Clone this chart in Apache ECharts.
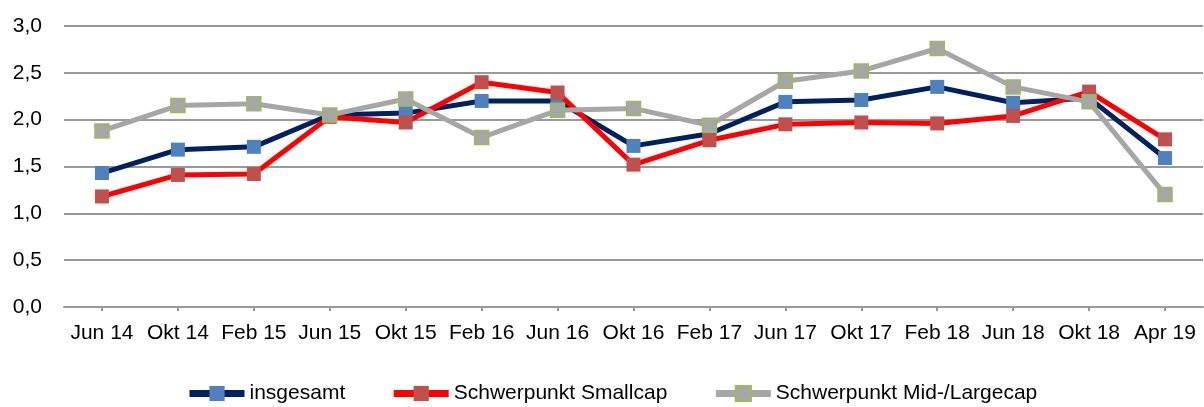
<!DOCTYPE html>
<html>
<head>
<meta charset="utf-8">
<script src="https://cdn.jsdelivr.net/npm/echarts@6/dist/echarts.min.js"></script>
<style>
html,body{margin:0;padding:0;background:#fff;}
#c{width:1204px;height:407px;}
</style>
</head>
<body>
<div id="c"></div>
<script>
var categories = ['Jun 14','Okt 14','Feb 15','Jun 15','Okt 15','Feb 16','Jun 16','Okt 16','Feb 17','Jun 17','Okt 17','Feb 18','Jun 18','Okt 18','Apr 19'];
var insgesamt = [1.43,1.68,1.71,2.05,2.07,2.20,2.20,1.72,1.85,2.19,2.21,2.35,2.18,2.23,1.59];
var smallcap = [1.18,1.41,1.42,2.03,1.97,2.40,2.29,1.52,1.78,1.95,1.97,1.96,2.04,2.30,1.79];
var midLarge = [1.88,2.15,2.17,2.05,2.22,1.81,2.10,2.12,1.94,2.41,2.52,2.76,2.35,2.19,1.20];
var seriesNames = ['insgesamt','Schwerpunkt Smallcap','Schwerpunkt Mid-/Largecap'];

var FONT = '"Liberation Sans", Arial, sans-serif';
var chart = echarts.init(document.getElementById('c'), null, {renderer:'canvas'});

function mk(name, data, lineColor, markColor, borderColor, z){
  return {
    name: name, type: 'line', data: data, z: z,
    symbol: 'rect', symbolSize: 14,
    lineStyle: {color: lineColor, width: 5},
    itemStyle: {color: markColor, borderColor: borderColor || markColor, borderWidth: borderColor ? 1.5 : 0},
    emphasis: {disabled: true},
    animation: false
  };
}

chart.setOption({
  animation: false,
  grid: {left: 64, right: 1, top: 26, bottom: 100, containLabel: false},
  legend: {
    top: 383, left: 186, padding: 0,
    itemWidth: 55, itemHeight: 19, itemGap: 45,
    lineStyle: {width: 7},
    textStyle: {fontFamily: FONT, fontSize: 21, color: '#000'},
    data: seriesNames
  },
  xAxis: {
    type: 'category', data: categories, boundaryGap: true,
    axisLine: {show: true, lineStyle: {color: '#999', width: 2}},
    axisTick: {show: true, alignWithLabel: true, length: 4, lineStyle: {color: '#999', width: 2}},
    axisLabel: {fontFamily: FONT, fontSize: 21, color: '#000', margin: 16, interval: 0}
  },
  yAxis: {
    type: 'value', min: 0, max: 3, interval: 0.5,
    axisLine: {show: false}, axisTick: {show: false},
    splitLine: {lineStyle: {color: '#999', width: 2}},
    axisLabel: {fontFamily: FONT, fontSize: 21, color: '#000', margin: 22,
      formatter: function(v){ return v.toFixed(1).replace('.', ','); }}
  },
  series: [
    mk(seriesNames[0], insgesamt, '#002060', '#4f81bd', null, 3),
    mk(seriesNames[1], smallcap, '#ff0000', '#c0504d', null, 4),
    mk(seriesNames[2], midLarge, '#a6a6a6', '#a6a6a6', '#9bbb59', 5)
  ]
});
</script>
</body>
</html>
